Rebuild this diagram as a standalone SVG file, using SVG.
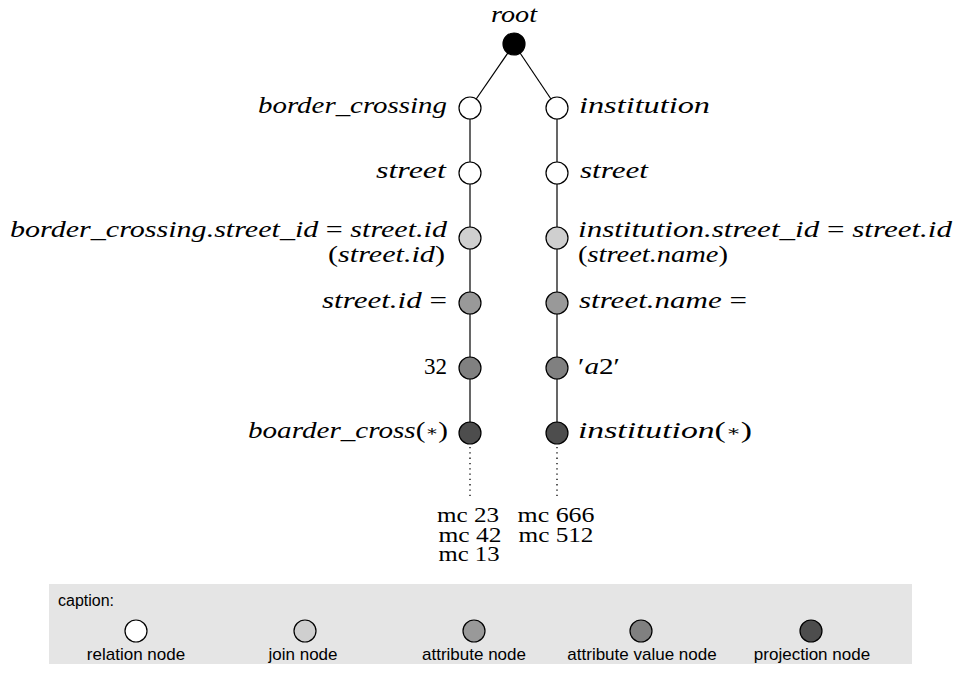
<svg xmlns="http://www.w3.org/2000/svg" width="959" height="676" viewBox="0 0 959 676">
<style>
.lbl{font-family:"Liberation Serif","Times New Roman",serif;font-style:italic;font-size:23px;fill:#000}
.up{font-style:normal}
.ast{font-style:normal;font-family:"DejaVu Serif",serif;font-size:15px}
.end{text-anchor:end}
.mc{font-family:"Liberation Serif","Times New Roman",serif;font-size:22px;text-anchor:middle;fill:#000}
.cap{font-family:"Liberation Sans",Arial,sans-serif;font-size:17px;text-anchor:middle;fill:#000}
.n{stroke:#000;stroke-width:1.2}
.root{fill:#000}.rel{fill:#fff}.join{fill:#cfcfcf}.attr{fill:#999}.val{fill:#808080}.proj{fill:#4d4d4d}
.edge{stroke:#000;stroke-width:1.2;fill:none}
.dot{stroke:#000;stroke-width:1.3;stroke-dasharray:1.3 4;fill:none}
</style>
<rect width="959" height="676" fill="#fff"/>
<g id="connectors">
<line class="edge" x1="514" y1="44" x2="470" y2="108"/>
<line class="edge" x1="514" y1="44" x2="557" y2="108"/>
<line class="edge" x1="470" y1="108" x2="470" y2="433"/>
<line class="edge" x1="557" y1="108" x2="557" y2="433"/>
<line class="dot" x1="470" y1="447" x2="470" y2="499"/>
<line class="dot" x1="557" y1="447" x2="557" y2="499"/>
</g>
<g id="root">
<circle class="n root" cx="514" cy="44" r="11"/>
<text class="lbl" x="514" y="22" text-anchor="middle" textLength="46" lengthAdjust="spacingAndGlyphs">root</text>
</g>
<g id="border_crossing">
<circle class="n rel" cx="470" cy="108" r="11"/>
<text class="lbl end" x="447" y="113" textLength="189" lengthAdjust="spacingAndGlyphs">border_crossing</text>
</g>
<g id="street_left">
<circle class="n rel" cx="470" cy="173" r="11"/>
<text class="lbl end" x="446" y="178" textLength="70" lengthAdjust="spacingAndGlyphs">street</text>
</g>
<g id="join_left">
<circle class="n join" cx="470" cy="238" r="11"/>
<text class="lbl end" x="447" y="237" textLength="437" lengthAdjust="spacingAndGlyphs">border_crossing.street_id <tspan class="up">=</tspan> street.id</text>
<text class="lbl end" x="445" y="262" textLength="117" lengthAdjust="spacingAndGlyphs"><tspan class="up">(</tspan>street.id<tspan class="up">)</tspan></text>
</g>
<g id="attr_left">
<circle class="n attr" cx="470" cy="303" r="11"/>
<text class="lbl end" x="447" y="308" textLength="125" lengthAdjust="spacingAndGlyphs">street.id <tspan class="up">=</tspan></text>
</g>
<g id="value_left">
<circle class="n val" cx="470" cy="368" r="11"/>
<text class="lbl end up" x="447" y="374">32</text>
</g>
<g id="proj_left">
<circle class="n proj" cx="470" cy="433" r="11"/>
<text class="lbl end" x="448" y="438" textLength="200" lengthAdjust="spacingAndGlyphs">boarder_cross<tspan class="up">(</tspan><tspan class="ast" dy="-2">∗</tspan><tspan class="up" dy="2">)</tspan></text>
</g>
<g id="institution">
<circle class="n rel" cx="557" cy="108" r="11"/>
<text class="lbl" x="579" y="113" textLength="131" lengthAdjust="spacingAndGlyphs">institution</text>
</g>
<g id="street_right">
<circle class="n rel" cx="557" cy="173" r="11"/>
<text class="lbl" x="580" y="178" textLength="68" lengthAdjust="spacingAndGlyphs">street</text>
</g>
<g id="join_right">
<circle class="n join" cx="557" cy="238" r="11"/>
<text class="lbl" x="578" y="237" textLength="374" lengthAdjust="spacingAndGlyphs">institution.street_id <tspan class="up">=</tspan> street.id</text>
<text class="lbl" x="578" y="262" textLength="150" lengthAdjust="spacingAndGlyphs"><tspan class="up">(</tspan>street.name<tspan class="up">)</tspan></text>
</g>
<g id="attr_right">
<circle class="n attr" cx="557" cy="303" r="11"/>
<text class="lbl" x="579" y="308" textLength="168" lengthAdjust="spacingAndGlyphs">street.name <tspan class="up">=</tspan></text>
</g>
<g id="value_right">
<circle class="n val" cx="557" cy="368" r="11"/>
<text class="lbl" x="578" y="374" textLength="42" lengthAdjust="spacingAndGlyphs"><tspan class="up">′</tspan>a<tspan class="up">2′</tspan></text>
</g>
<g id="proj_right">
<circle class="n proj" cx="557" cy="433" r="11"/>
<text class="lbl" x="578" y="438" textLength="174" lengthAdjust="spacingAndGlyphs">institution<tspan class="up">(</tspan><tspan class="ast" dy="-2">∗</tspan><tspan class="up" dy="2">)</tspan></text>
</g>
<g id="results_left">
<text class="mc" x="468" y="522" textLength="62" lengthAdjust="spacingAndGlyphs">mc 23</text>
<text class="mc" x="470" y="542" textLength="63" lengthAdjust="spacingAndGlyphs">mc 42</text>
<text class="mc" x="469" y="561" textLength="61" lengthAdjust="spacingAndGlyphs">mc 13</text>
</g>
<g id="results_right">
<text class="mc" x="556" y="522" textLength="77" lengthAdjust="spacingAndGlyphs">mc 666</text>
<text class="mc" x="556" y="542" textLength="75" lengthAdjust="spacingAndGlyphs">mc 512</text>
</g>
<g id="caption">
<rect x="49" y="584" width="863" height="80" fill="#e5e5e5"/>
<text x="58" y="606" font-family="Liberation Sans,Arial,sans-serif" font-size="16">caption:</text>
<circle class="n rel" cx="136" cy="631" r="11"/>
<text class="cap" x="136" y="660">relation node</text>
<circle class="n join" cx="305" cy="631" r="11"/>
<text class="cap" x="303" y="660">join node</text>
<circle class="n attr" cx="474" cy="631" r="11"/>
<text class="cap" x="474" y="660">attribute node</text>
<circle class="n val" cx="641" cy="631" r="11"/>
<text class="cap" x="642" y="660">attribute value node</text>
<circle class="n proj" cx="811" cy="631" r="11"/>
<text class="cap" x="812" y="660">projection node</text>
</g>
</svg>
